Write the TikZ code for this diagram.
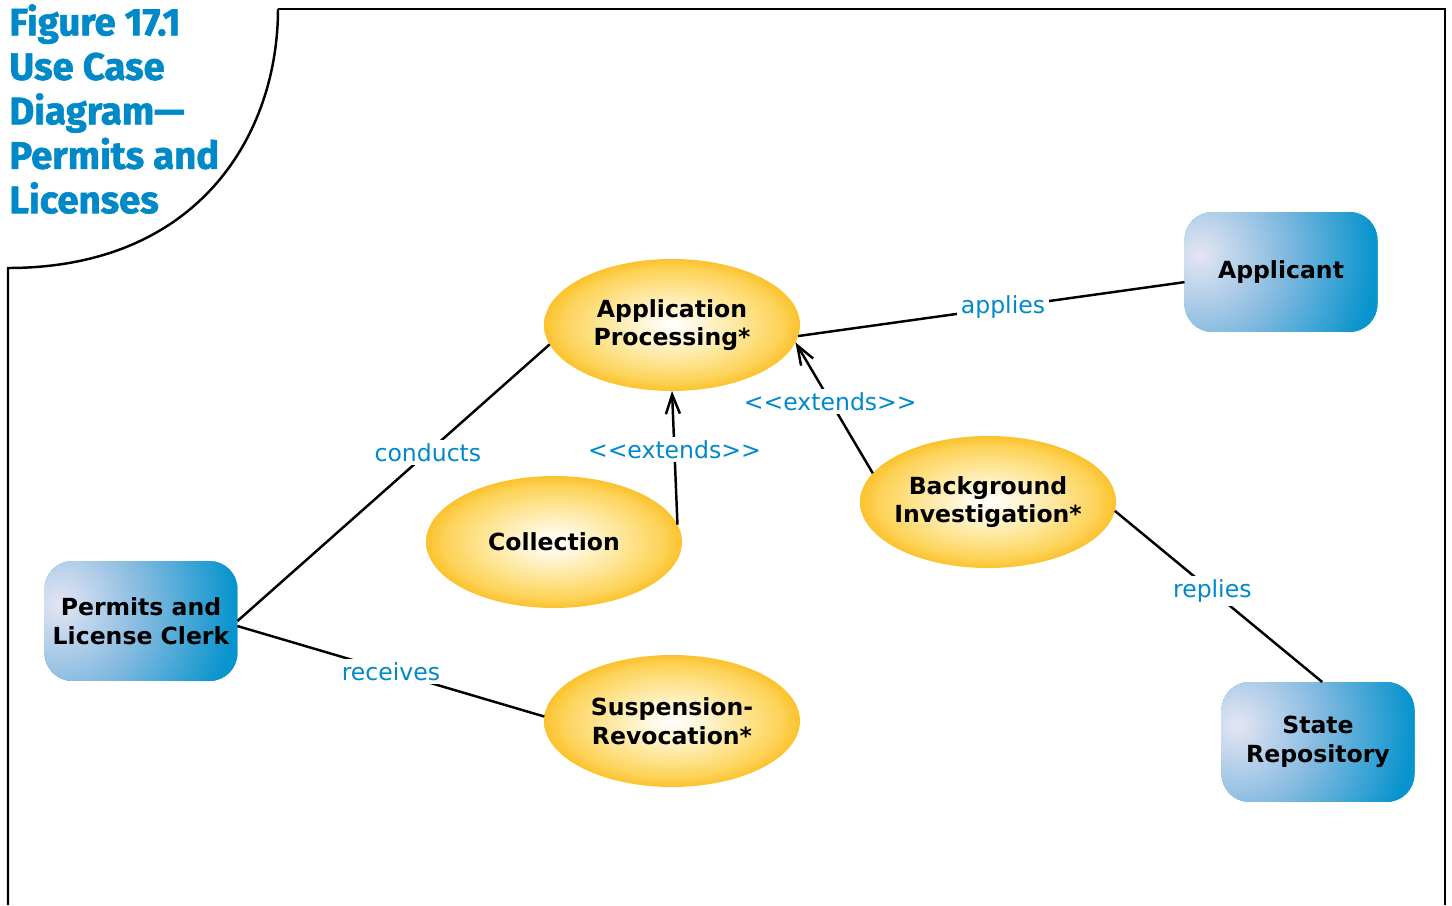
\documentclass[tikz,border=0pt]{standalone}
\usepackage{fontspec}
\setmainfont{DejaVu Sans}
\newfontfamily\titlefont{Fira Sans}[BoldFeatures={FakeBold=1.6}]
\usepackage{xcolor}
\usetikzlibrary{shapes.geometric, arrows.meta, positioning, calc}

\definecolor{ucblue}{RGB}{0,137,200}
\definecolor{ucyellow}{RGB}{251,194,44}
\definecolor{ucyellowdeep}{RGB}{253,210,86}
\definecolor{ucyellowmid}{RGB}{254,230,152}
\definecolor{ucyellowlight}{RGB}{255,249,228}
\definecolor{actorlight}{RGB}{228,229,243}
\definecolor{actormid}{RGB}{132,186,224}
\definecolor{actordark}{RGB}{8,148,205}

% the path's box covers the middle 50bp of a shading, so the edge is at 25bp
\pgfdeclareradialshading{usecaseshade}{\pgfpoint{0bp}{0bp}}{color(0bp)=(white); color(4bp)=(ucyellowlight); color(13.5bp)=(ucyellowmid); color(21.5bp)=(ucyellowdeep); color(25bp)=(ucyellow); color(50bp)=(ucyellow)}
\pgfdeclareradialshading{actorshade}{\pgfpoint{0bp}{0bp}}{color(0bp)=(actorlight); color(10.5bp)=(actormid); color(22bp)=(actordark); color(50bp)=(actordark)}

\tikzstyle{usecase} = [ellipse, shading=usecaseshade, minimum width=5.12cm, minimum height=2.64cm, inner sep=0pt, inner xsep=-1cm, outer sep=0pt, align=center, font=\bfseries\fontsize{13.4}{16.2}\selectfont]
\tikzstyle{actor} = [rectangle, rounded corners=0.56cm, fill=actordark, path picture={\shade[shading=actorshade] ([xshift=0.3cm,yshift=-0.86cm]path picture bounding box.north west) circle (4cm);}, minimum width=3.86cm, minimum height=2.4cm, inner sep=0pt, outer sep=0pt, align=center, font=\bfseries\fontsize{13.4}{16.2}\selectfont]
\tikzstyle{link} = [line width=1.4pt]
\tikzstyle{arrow} = [line width=1.4pt,->,>={Straight Barb[length=11pt,width=8pt]}]
\tikzstyle{lbl} = [fill=white, text=ucblue, inner sep=2pt, font=\fontsize{13.4}{16}\selectfont]

\begin{document}
\begin{tikzpicture}[x=0.02cm, y=-0.02cm]
    \useasboundingbox (0,0) rectangle (1452,905);

    % Frame with rounded title corner
    \draw[link] (278,9) -- (1445,9) -- (1445,905);
    \draw[link] (8,905) -- (8,268) .. controls (200,268) and (278,133) .. (278,9);

    % Title
    \node[anchor=north west, align=left, inner sep=0pt, text=ucblue, font=\titlefont\bfseries\fontsize{21.8}{25.3}\selectfont] (title) at (9,4) {Figure 17.1\\Use Case\\Diagram—\\Permits and\\Licenses};

    % Actors
    \node[actor] (applicant) at (1281,272) {Applicant};
    \node[actor] (clerk) at (141,621) {Permits and\\License Clerk};
    \node[actor] (repo) at (1318,742) {State\\Repository};

    % Use cases
    \node[usecase] (appproc) at (672,325) {Application\\Processing*};
    \node[usecase] (collection) at (554,542) {Collection};
    \node[usecase] (bginv) at (988,502) {Background\\Investigation*};
    \node[usecase] (susprev) at (672,721) {Suspension-\\Revocation*};

    % Associations
    \draw[link] (appproc.-5) -- (applicant.186) node[lbl, pos=0.53] {applies};
    \draw[link] (clerk.east) -- (appproc.189) node[lbl, pos=0.61] {conducts};
    \draw[link] (clerk.-3) -- (susprev.178) node[lbl, midway] {receives};
    \draw[link] (bginv.-4) -- (repo.86) node[lbl, pos=0.47] {replies};

    % Extends
    \draw[arrow] (collection.8) -- (appproc.south) node[lbl, pos=0.56] {<{}<extends>{}>};
    \draw[arrow] (bginv.166) -- (appproc.-8) node[lbl, pos=0.55] {<{}<extends>{}>};
\end{tikzpicture}
\end{document}
